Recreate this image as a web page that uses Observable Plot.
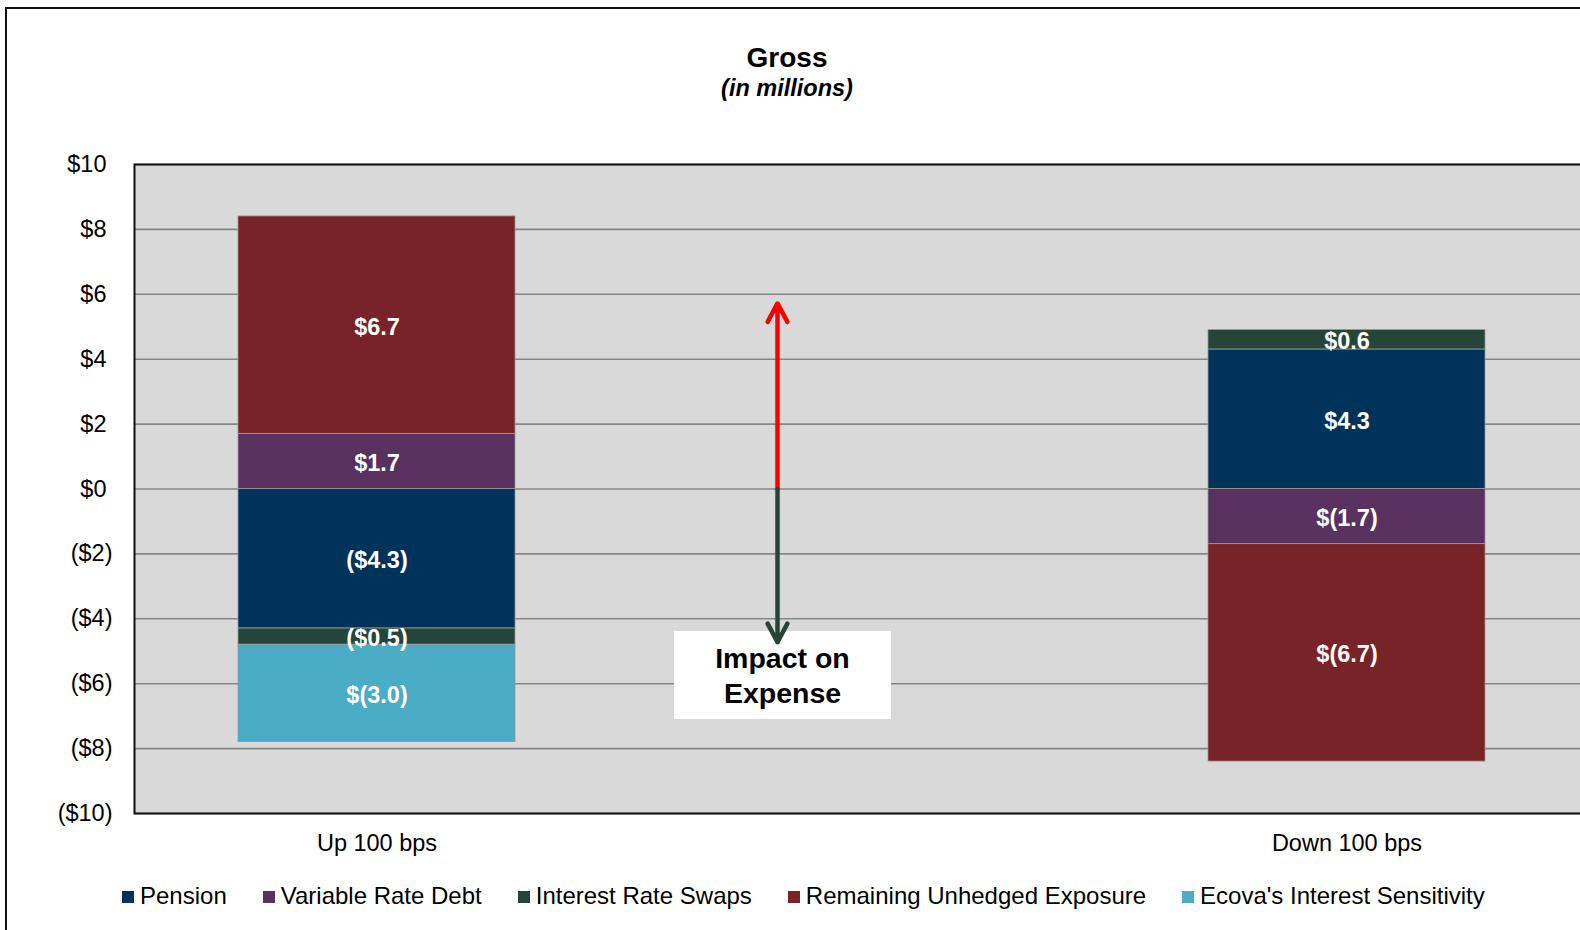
<!DOCTYPE html>
<html><head><meta charset="utf-8">
<script src="https://cdn.jsdelivr.net/npm/d3@7"></script>
<script src="https://cdn.jsdelivr.net/npm/@observablehq/plot@0.6"></script>
<style>
html,body{margin:0;padding:0;width:1580px;height:930px;overflow:hidden;background:#fff;font-family:"Liberation Sans",Arial,sans-serif;}
#frame{position:absolute;left:5px;top:7px;width:1700px;height:1000px;border:2px solid #111;box-sizing:border-box;}
#chart,#overlay{position:absolute;left:0;top:0;width:1600px;}
#overlay{pointer-events:none;}
#chart svg,#overlay svg{max-width:none !important;}
#title{position:absolute;left:0;width:1574px;top:42px;text-align:center;font-weight:bold;font-size:28px;line-height:32px;color:#000;}
#subtitle{position:absolute;left:0;width:1574px;top:75px;text-align:center;font-weight:bold;font-style:italic;font-size:23.5px;line-height:27px;color:#000;}
#impact{position:absolute;left:674px;top:631px;width:217px;height:88px;background:#fff;box-sizing:border-box;padding-top:10px;text-align:center;font-weight:bold;font-size:28.5px;line-height:35px;color:#000;}
#legend{position:absolute;left:122px;top:882px;display:flex;gap:36px;font-size:24px;line-height:28px;color:#000;white-space:nowrap;}
#legend .item{display:flex;align-items:center;}
#legend .sw{width:12px;height:12px;margin-right:6px;margin-top:1px;}
</style></head>
<body>
<div id="frame"></div>
<div id="chart"></div>
<div id="title">Gross</div>
<div id="subtitle">(in millions)</div>
<div id="legend"></div>
<div id="impact">Impact on<br>Expense</div>
<div id="overlay"></div>
<script>
const categories = ["Up 100 bps", " ", "Down 100 bps"];
const seriesNames = ["Pension", "Variable Rate Debt", "Interest Rate Swaps", "Remaining Unhedged Exposure", "Ecova's Interest Sensitivity"];
const seriesColors = ["#00335a", "#59315f", "#254539", "#772328", "#4bacc6"];
const upValues = [-4.3, 1.7, -0.5, 6.7, -3.0];
const upLabels = ["($4.3)", "$1.7", "($0.5)", "$6.7", "$(3.0)"];
const downValues = [4.3, -1.7, 0.6, -6.7, null];
const downLabels = ["$4.3", "$(1.7)", "$0.6", "$(6.7)", ""];
const yPosTicks = [0, 2, 4, 6, 8, 10];
const yNegTicks = [-2, -4, -6, -8, -10];
const arrowEnds = [5.72, -4.72];
const arrowColors = ["#ff0000", "#254539"];

const rows = [];
seriesNames.forEach((s, i) => {
  if (upValues[i] != null) rows.push({cat: categories[0], series: s, value: upValues[i], label: upLabels[i], color: seriesColors[i]});
});
seriesNames.forEach((s, i) => {
  if (downValues[i] != null) rows.push({cat: categories[2], series: s, value: downValues[i], label: downLabels[i], color: seriesColors[i]});
});
const arrows = arrowEnds.map((v, i) => ({cat: categories[1], y1: 0, y2: v, color: arrowColors[i]}));

const fmt = d => d >= 0 ? `$${d}` : `($${-d})`;

const base = {
  width: 1600,
  height: 873,
  marginLeft: 134,
  marginRight: 10,
  marginTop: 164,
  marginBottom: 60,
  style: {fontFamily: "'Liberation Sans', Arial, sans-serif", background: "transparent", maxWidth: "none"},
  x: {domain: categories, paddingInner: 0.428, paddingOuter: 0.214, label: null, axis: null},
  y: {domain: [-10, 10], label: null, axis: null},
  color: {type: "identity"}
};

const chart = Plot.plot({
  ...base,
  marks: [
    Plot.frame({fill: "#d9d9d9"}),
    Plot.gridY(yPosTicks.concat(yNegTicks), {stroke: "#868686", strokeOpacity: 1, strokeWidth: 1.6}),
    Plot.barY(rows, Plot.stackY({x: "cat", y: "value", z: "series", fill: "color", stroke: "#9a9a9a", strokeWidth: 0.8})),
    Plot.text(rows, Plot.stackY({x: "cat", y: "value", z: "series", text: "label", fill: "#ffffff", fontWeight: "bold", fontSize: 23.5, dy: 2})),
    Plot.frame({stroke: "#111", strokeWidth: 2}),
    Plot.axisY(yPosTicks, {tickSize: 0, tickPadding: 28, tickFormat: fmt, fontSize: 23.5, fill: "#000", label: null}),
    Plot.axisY(yNegTicks, {tickSize: 0, tickPadding: 22, tickFormat: fmt, fontSize: 23.5, fill: "#000", label: null}),
    Plot.axisX({tickSize: 0, tickPadding: 21, fontSize: 23.5, fill: "#000", label: null})
  ]
});
document.getElementById("chart").appendChild(chart);

const overlay = Plot.plot({
  ...base,
  marks: [
    Plot.arrow(arrows, {x1: "cat", x2: "cat", y1: "y1", y2: "y2", stroke: "color", strokeWidth: 4.5, headLength: 7, headAngle: 56, dx: -85})
  ]
});
document.getElementById("overlay").appendChild(overlay);

const legend = document.getElementById("legend");
seriesNames.forEach((s, i) => {
  const item = document.createElement("div");
  item.className = "item";
  const sw = document.createElement("span");
  sw.className = "sw";
  sw.style.background = seriesColors[i];
  const t = document.createElement("span");
  t.textContent = s;
  item.appendChild(sw);
  item.appendChild(t);
  legend.appendChild(item);
});
</script>
</body></html>
